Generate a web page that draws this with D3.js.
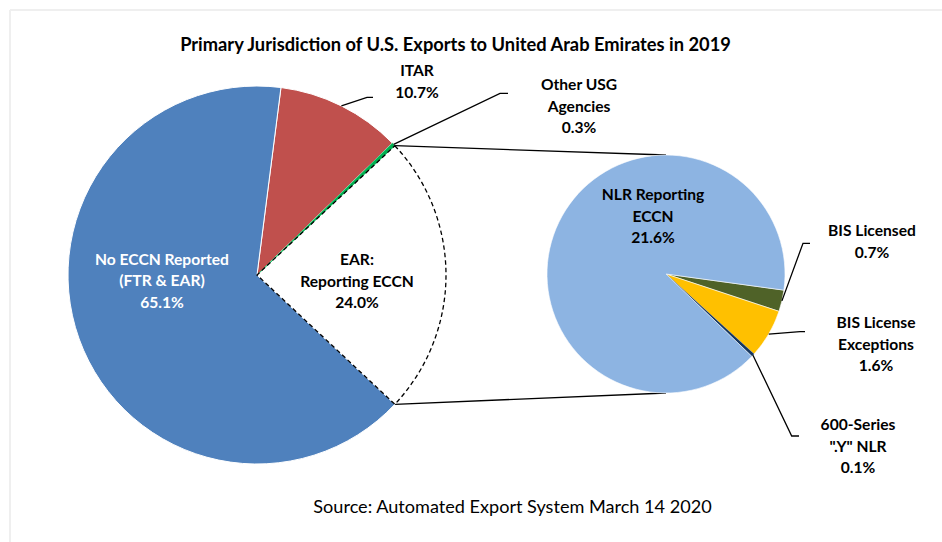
<!DOCTYPE html>
<html>
<head>
<meta charset="utf-8">
<script src="https://cdn.jsdelivr.net/npm/d3@7"></script>
<style>
  html, body { margin: 0; padding: 0; background: #fff; }
  svg { display: block; }
  text { font-family: Lato, "Open Sans", sans-serif; }
</style>
</head>
<body>
<svg id="chart" width="942" height="542"></svg>
<script>
// ---- data ----
const titleText = "Primary Jurisdiction of U.S. Exports to United Arab Emirates in 2019";
const sourceText = "Source: Automated Export System March 14 2020";

const mainCategories = ["ITAR", "Other USG Agencies", "EAR: Reporting ECCN", "No ECCN Reported (FTR & EAR)"];
const mainValues = [10.7, 0.3, 24.0, 65.1];
const mainLabelLines = [["ITAR", "10.7%"], ["Other USG", "Agencies", "0.3%"], ["EAR:", "Reporting ECCN", "24.0%"], ["No ECCN Reported", "(FTR & EAR)", "65.1%"]];
const mainColors = ["#C0504D", "#00B050", "#FFFFFF", "#4F81BD"];

const subCategories = ["BIS Licensed", "BIS License Exceptions", "600-Series \".Y\" NLR", "NLR Reporting ECCN"];
const subValues = [0.7, 1.6, 0.1, 21.6];
const subLabelLines = [["BIS Licensed", "0.7%"], ["BIS License", "Exceptions", "1.6%"], ["600-Series", "\".Y\" NLR", "0.1%"], ["NLR Reporting", "ECCN", "21.6%"]];
const subColors = ["#4F6228", "#FFC000", "#17375E", "#8DB4E2"];

// ---- layout ----
const svg = d3.select("#chart");
const W = 942, H = 542;
const deg = Math.PI / 180;

// light frame
svg.append("line").attr("x1", 10).attr("y1", 10).attr("x2", W).attr("y2", 10).attr("stroke", "#efefef").attr("stroke-width", 2);
svg.append("line").attr("x1", 10).attr("y1", 10).attr("x2", 10).attr("y2", H).attr("stroke", "#efefef").attr("stroke-width", 2);

const mc = { x: 257, y: 275, r: 189 };
const sc = { x: 666, y: 274, r: 119 };

const total = d3.sum(mainValues);
const earIdx = 2;
// EAR slice centered on the horizontal (3 o'clock)
const before = d3.sum(mainValues.slice(0, earIdx)) + mainValues[earIdx] / 2;
const mainStart = Math.PI / 2 - before / total * 2 * Math.PI;

const mainPie = d3.pie().sort(null).value(d => d).startAngle(mainStart).endAngle(mainStart + 2 * Math.PI);
const mainArcs = mainPie(mainValues);
const mainArc = d3.arc().innerRadius(0).outerRadius(mc.r);

const subStart = 97.8 * deg;
const subPie = d3.pie().sort(null).value(d => d).startAngle(subStart).endAngle(subStart + 2 * Math.PI);
const subArcs = subPie(subValues);
const subArc = d3.arc().innerRadius(0).outerRadius(sc.r);

function pt(c, ang, r) { return [c.x + r * Math.sin(ang), c.y - r * Math.cos(ang)]; }

// connector lines
const earA = mainArcs[earIdx];
const p1 = pt(mc, earA.startAngle, mc.r), p2 = pt(mc, earA.endAngle, mc.r);
svg.append("line").attr("x1", p1[0]).attr("y1", p1[1]).attr("x2", sc.x).attr("y2", sc.y - sc.r).attr("stroke", "#000").attr("stroke-width", 1.3);
svg.append("line").attr("x1", p2[0]).attr("y1", p2[1]).attr("x2", sc.x).attr("y2", sc.y + sc.r).attr("stroke", "#000").attr("stroke-width", 1.3);

// main pie
const gMain = svg.append("g").attr("transform", `translate(${mc.x},${mc.y})`);
gMain.selectAll("path").data(mainArcs).join("path")
  .attr("d", mainArc)
  .attr("fill", (d, i) => mainColors[i])
  .attr("stroke", (d, i) => i === earIdx ? "none" : "#fff")
  .attr("stroke-width", 1);
// keep the tiny green slice visible
gMain.append("path").datum(mainArcs[1]).attr("d", mainArc).attr("fill", mainColors[1])
  .attr("stroke", mainColors[1]).attr("stroke-width", 0.6);
// dashed outline of the exploded slice
gMain.append("path").datum(mainArcs[earIdx]).attr("d", mainArc).attr("fill", "none")
  .attr("stroke", "#000").attr("stroke-width", 1.3).attr("stroke-dasharray", "4.5,3");

// sub pie
const gSub = svg.append("g").attr("transform", `translate(${sc.x},${sc.y})`);
gSub.selectAll("path").data(subArcs).join("path")
  .attr("d", subArc)
  .attr("fill", (d, i) => subColors[i])
  .attr("stroke", (d, i) => i === 2 ? "#17375E" : "#fff")
  .attr("stroke-width", (d, i) => i === 2 ? 0.3 : 0.6);

// text helper
const fs = 15.6, lh = 21.5;
function label(x, yFirst, lines, color) {
  const t = svg.append("text").attr("text-anchor", "middle").attr("font-weight", "bold")
    .attr("font-size", fs).attr("fill", color || "#000");
  lines.forEach((s, i) => t.append("tspan").attr("x", x).attr("y", yFirst + i * lh).attr("dy", "0.35em").text(s));
}

// leader lines: start at slice mid-angle on rim
function leader(c, a, elbow, end) {
  const m = (a.startAngle + a.endAngle) / 2;
  const s = pt(c, m, c.r);
  svg.append("polyline").attr("points", [s, elbow, end].map(p => p.join(",")).join(" "))
    .attr("fill", "none").attr("stroke", "#000").attr("stroke-width", 1.3);
}

leader(mc, mainArcs[0], [367, 97.3], [373, 97.3]);
leader(mc, mainArcs[1], [500, 93.3], [508, 93.3]);
leader(sc, subArcs[0], [803, 243.3], [810, 243.3]);
leader(sc, subArcs[1], [800, 331.7], [805, 331.7]);
leader(sc, subArcs[2], [791.7, 436], [799, 436]);

// labels
label(417, 71, mainLabelLines[0]);
label(579, 85, mainLabelLines[1]);
label(357, 260, mainLabelLines[2]);
label(162, 259.5, mainLabelLines[3], "#fff");
label(872, 231, subLabelLines[0]);
label(876, 323, subLabelLines[1]);
label(858, 425, subLabelLines[2]);
label(653, 195, subLabelLines[3]);

// title & source
svg.append("text").attr("x", 455.5).attr("y", 45).attr("dy", "0.35em").attr("text-anchor", "middle")
  .attr("font-weight", "bold").attr("font-size", 18.3).attr("fill", "#000").text(titleText);
svg.append("text").attr("x", 512.5).attr("y", 507).attr("dy", "0.35em").attr("text-anchor", "middle")
  .attr("font-size", 18.1).attr("fill", "#000").text(sourceText);
</script>
</body>
</html>
